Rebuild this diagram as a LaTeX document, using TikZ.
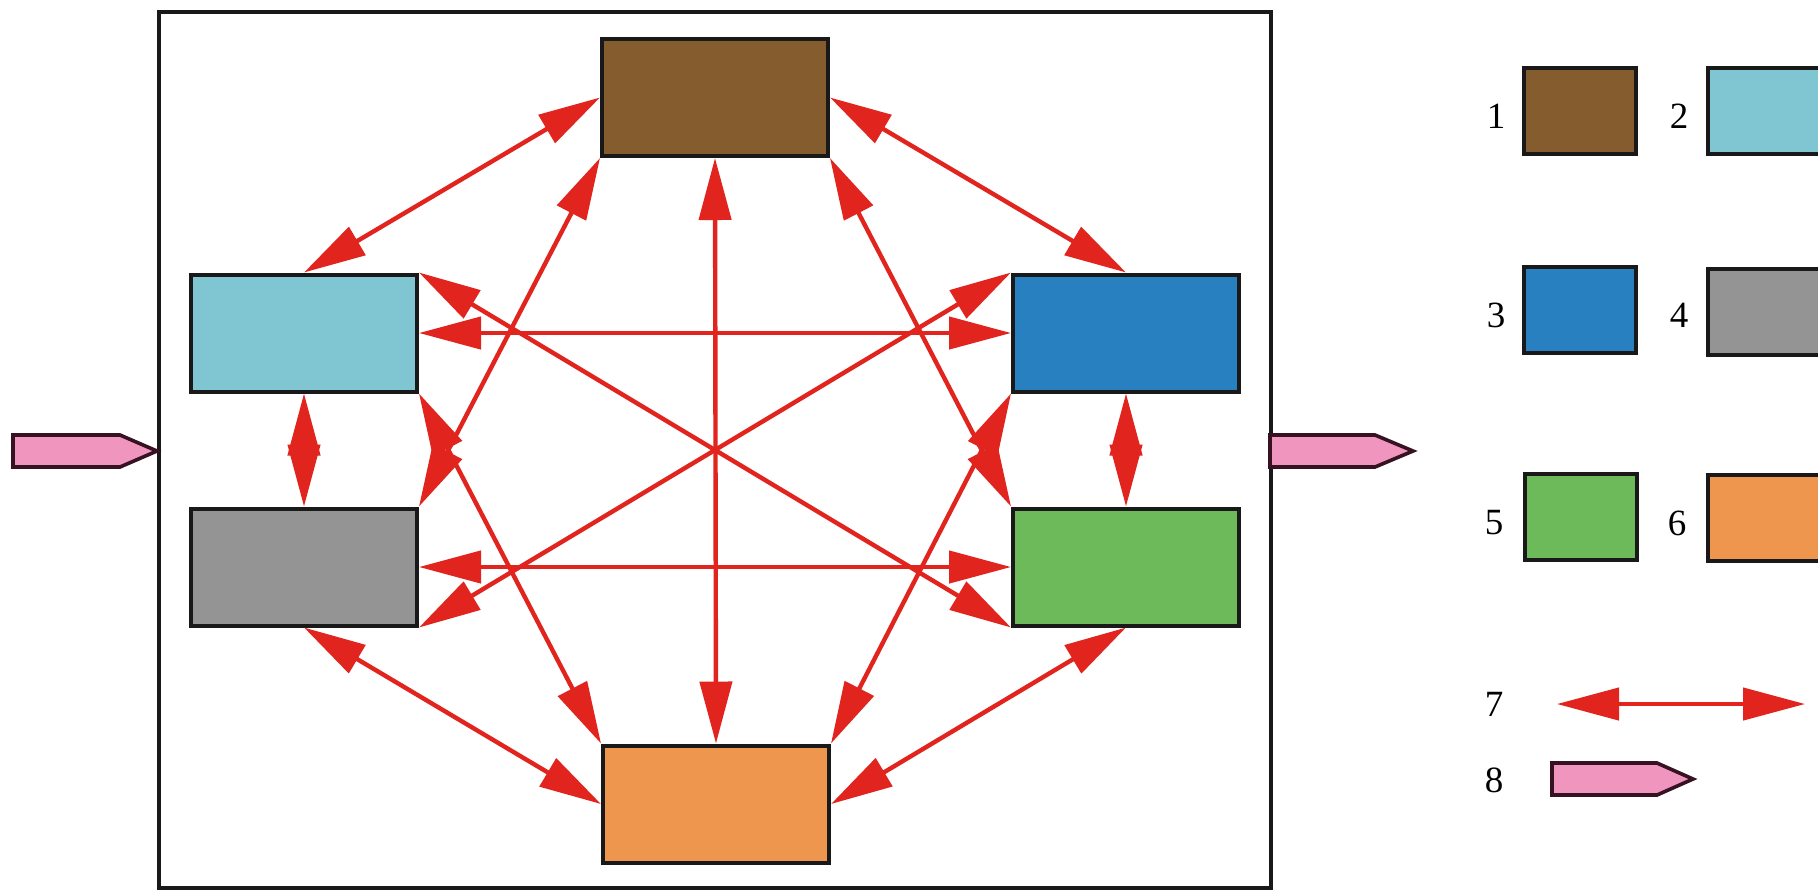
\documentclass[tikz,border=0pt]{standalone}
\usepackage{fontspec}
\setmainfont{Liberation Serif}
\usetikzlibrary{arrows.meta}
\definecolor{cbrown}{RGB}{133,92,46}
\definecolor{clblue}{RGB}{127,197,210}
\definecolor{cblue}{RGB}{41,128,192}
\definecolor{cgray}{RGB}{148,148,148}
\definecolor{cgreen}{RGB}{109,186,90}
\definecolor{corange}{RGB}{238,150,78}
\definecolor{cred}{RGB}{225,37,30}
\definecolor{cpink}{RGB}{240,150,190}
\definecolor{cpinkd}{RGB}{55,18,35}
\begin{document}
\begin{tikzpicture}[x=0.5pt,y=-0.5pt,
  box/.style={draw=black!90, line width=2pt, inner sep=0pt, minimum width=113pt, minimum height=58.5pt},
  lbox/.style={box, minimum width=56pt, minimum height=43pt},
  link/.style={draw=cred, line width=2.2pt, {Triangle[length=31pt,width=16pt]}-{Triangle[length=31pt,width=16pt]}},
  num/.style={font=\fontsize{18.5}{21}\selectfont, inner sep=0pt},
  pinkarrow/.style={fill=cpink, draw=cpinkd, line width=1.8pt, line join=miter}]
\clip (0,0) rectangle (1818,891);
\fill[white] (0,0) rectangle (1818,891);
% frame
\draw[line width=1.6pt, black!90] (159,12) rectangle (1271,888);
% boxes
\node[box, fill=cbrown]  (b1) at (715,97.5) {};
\node[box, fill=clblue]  (b2) at (304,333) {};
\node[box, fill=cblue]   (b3) at (1126,333) {};
\node[box, fill=cgray]   (b4) at (304,567) {};
\node[box, fill=cgreen]  (b5) at (1126,567) {};
\node[box, fill=corange] (b6) at (716,804) {};
% connectors
\draw[link] (b1.west) -- (b2.north);
\draw[link] (b1.east) -- (b3.north);
\draw[link] (b1.south west) -- (b4.north east);
\draw[link] (b1.south east) -- (b5.north west);
\draw[link] (b1.south) -- (b6.north);
\draw[link] (b2.east) -- (b3.west);
\draw[link] (b2.north east) -- (b5.south west);
\draw[link] (b3.north west) -- (b4.south east);
\draw[link] (b4.east) -- (b5.west);
\draw[link] (b2.south east) -- (b6.north west);
\draw[link] (b3.south west) -- (b6.north east);
\draw[link] (b4.south) -- (b6.west);
\draw[link] (b5.south) -- (b6.east);
\draw[link] (b2.south) -- (b4.north);
\draw[link] (b3.south) -- (b5.north);
% input / output arrows
\draw[pinkarrow] (13,435) -- (120,435) -- (157,451) -- (120,467) -- (13,467) -- cycle;
\draw[pinkarrow] (1270,435) -- (1375,435) -- (1413,451) -- (1375,467) -- (1270,467) -- cycle;
% legend
\node[lbox, fill=cbrown]  (l1) at (1580,111) {};
\node[lbox, fill=clblue]  (l2) at (1764,111) {};
\node[lbox, fill=cblue]   (l3) at (1580,310) {};
\node[lbox, fill=cgray]   (l4) at (1764,312) {};
\node[lbox, fill=cgreen]  (l5) at (1581,516.5) {};
\node[lbox, fill=corange] (l6) at (1764,517.5) {};
\node[num] (t1) at (1496,116) {1};
\node[num] (t2) at (1679,116) {2};
\node[num] (t3) at (1496,315) {3};
\node[num] (t4) at (1679,315) {4};
\node[num] (t5) at (1494,523) {5};
\node[num] (t6) at (1677,523) {6};
\node[num] (t7) at (1494,704) {7};
\node[num] (t8) at (1494,780) {8};
\coordinate (l7a) at (1557,704);
\coordinate (l7b) at (1805,704);
\draw[link] (l7a) -- (l7b);
\draw[pinkarrow] (1552,763) -- (1657,763) -- (1693,779) -- (1657,795) -- (1552,795) -- cycle;
\end{tikzpicture}
\end{document}
